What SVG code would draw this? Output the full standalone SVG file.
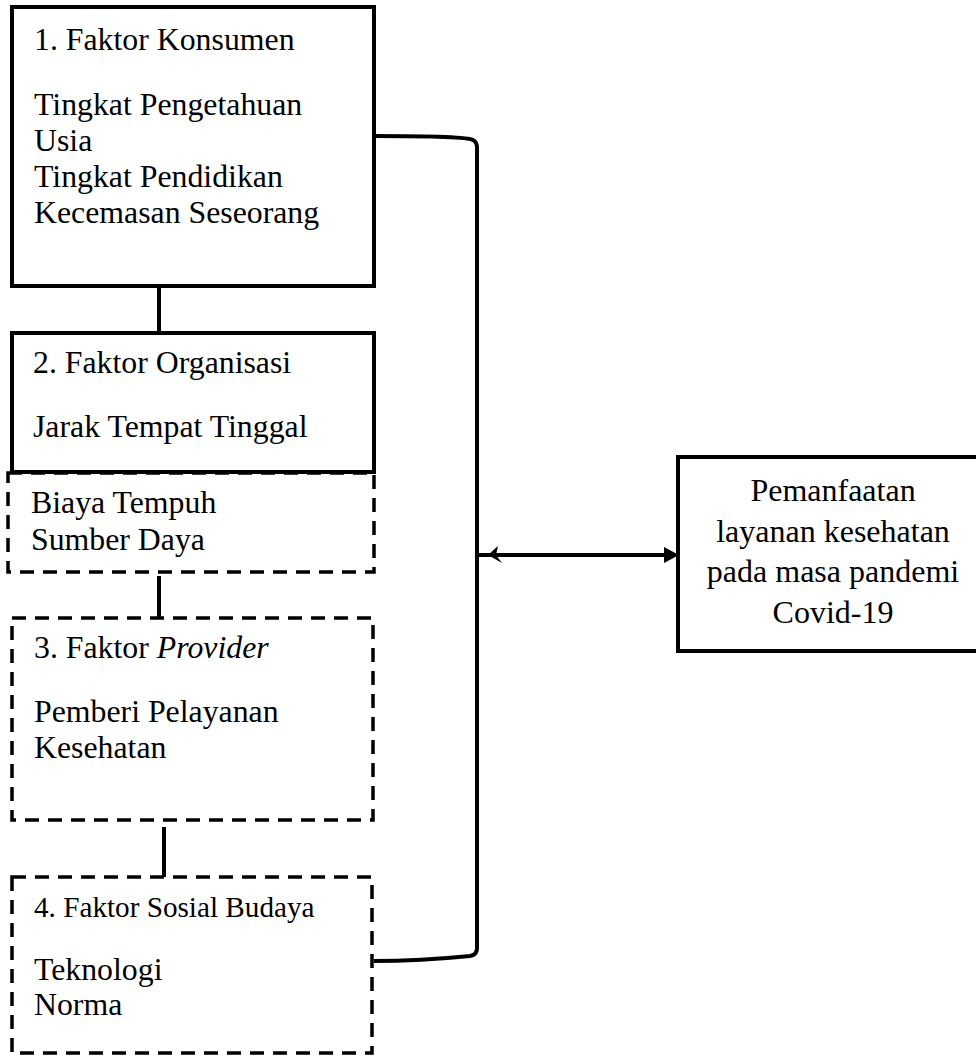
<svg xmlns="http://www.w3.org/2000/svg" width="976" height="1057" viewBox="0 0 976 1057">
<style>
.box{fill:#fff;stroke:#000;stroke-width:4}
.dbox{fill:none;stroke:#000;stroke-width:3.5;stroke-dasharray:14 9}
.t{font-family:"Liberation Serif","Times New Roman",serif;font-size:31.8px;fill:#000}
.ts{font-family:"Liberation Serif","Times New Roman",serif;font-size:29.2px;fill:#000}
.tr{font-family:"Liberation Serif","Times New Roman",serif;font-size:32px;fill:#000;text-anchor:middle}
.ln{fill:none;stroke:#000;stroke-width:4}
</style>
<rect width="976" height="1057" fill="#fff"/>
<g id="connectors">
<line class="ln" x1="159" y1="286" x2="159" y2="333"/>
<line class="ln" x1="159" y1="576" x2="159" y2="618"/>
<line class="ln" x1="164" y1="827" x2="164" y2="877"/>
<path class="ln" d="M374,136 C430,136 468,137 473,140 Q477,142 477,148 L477,948 Q477,955 470,956 C440,959 410,961 374,961"/>
<line class="ln" x1="477" y1="555" x2="666" y2="555"/>
<polygon points="664,547 679,555 664,563" fill="#000"/>
<polygon points="488,555 498,546 496,555 502,563" fill="#000"/>
</g>
<g id="node-konsumen">
<rect class="box" x="12" y="7" width="362" height="279"/>
<text class="t" x="34" y="50">1. Faktor Konsumen</text>
<text class="t" x="34" y="115">Tingkat Pengetahuan</text>
<text class="t" x="34" y="151">Usia</text>
<text class="t" x="34" y="187">Tingkat Pendidikan</text>
<text class="t" x="34" y="223">Kecemasan Seseorang</text>
</g>
<g id="node-organisasi">
<rect class="box" x="12" y="333" width="362" height="139"/>
<text class="t" x="33" y="373">2. Faktor Organisasi</text>
<text class="t" x="33" y="437">Jarak Tempat Tinggal</text>
</g>
<g id="node-biaya">
<rect class="dbox" x="8" y="473" width="366" height="99"/>
<text class="t" x="31" y="513">Biaya Tempuh</text>
<text class="t" x="31" y="550">Sumber Daya</text>
</g>
<g id="node-provider">
<rect class="dbox" x="12" y="618" width="361" height="202"/>
<text class="t" x="34" y="658">3. Faktor <tspan font-style="italic">Provider</tspan></text>
<text class="t" x="34" y="722">Pemberi Pelayanan</text>
<text class="t" x="34" y="758">Kesehatan</text>
</g>
<g id="node-sosial">
<rect class="dbox" x="12" y="877" width="360" height="176"/>
<text class="ts" x="34" y="917">4. Faktor Sosial Budaya</text>
<text class="t" x="34" y="980">Teknologi</text>
<text class="t" x="34" y="1015">Norma</text>
</g>
<g id="node-pemanfaatan">
<rect class="box" x="678" y="457" width="320" height="194"/>
<text class="tr" x="833" y="501">Pemanfaatan</text>
<text class="tr" x="833" y="542">layanan kesehatan</text>
<text class="tr" x="833" y="582">pada masa pandemi</text>
<text class="tr" x="833" y="623">Covid-19</text>
</g>
</svg>
